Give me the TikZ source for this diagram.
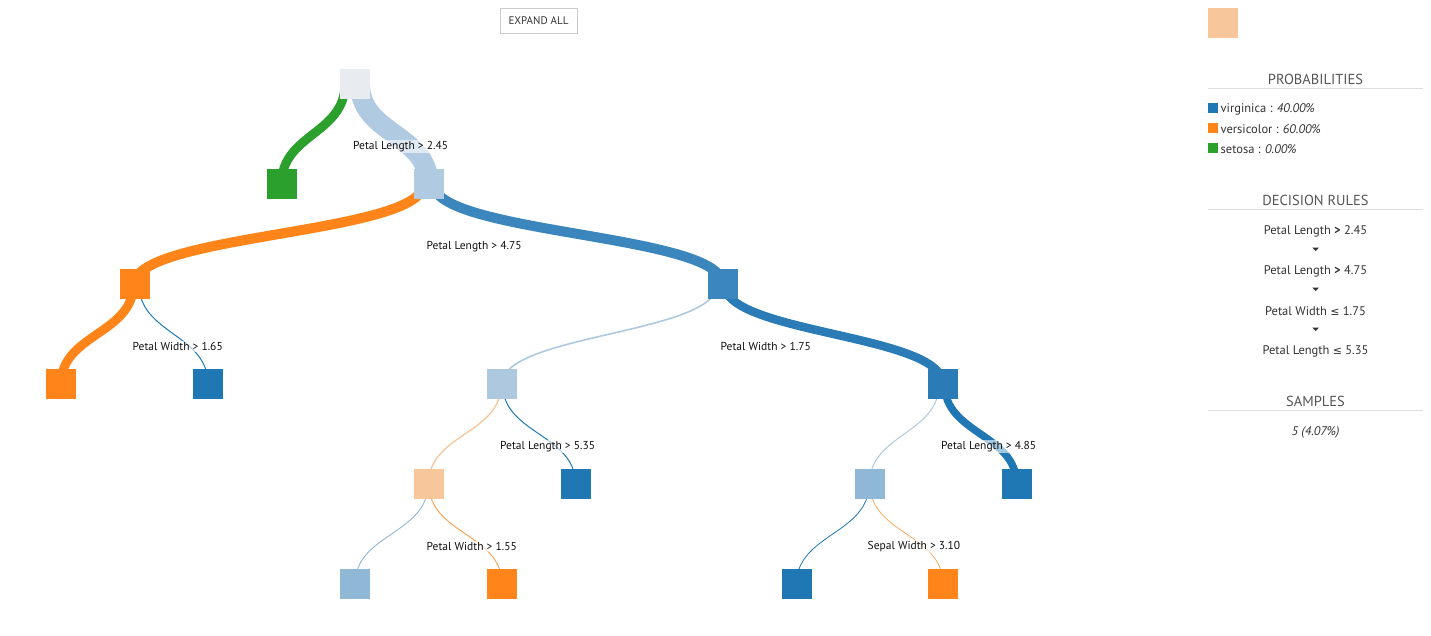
\documentclass[tikz,border=0pt]{standalone}
\usepackage{fontspec}
\setmainfont{PT Sans}
\newfontfamily\symf{DejaVu Sans}
\usetikzlibrary{backgrounds}
\definecolor{cRoot}{HTML}{E8ECF0}
\definecolor{cLone}{HTML}{B0CAE1}
\definecolor{cOr}{HTML}{FF851A}
\definecolor{cGr}{HTML}{2CA02C}
\definecolor{cBtwo}{HTML}{3A86BD}
\definecolor{cBthree}{HTML}{2A7BB6}
\definecolor{cBl}{HTML}{1F77B4}
\definecolor{cLthree}{HTML}{AEC8DF}
\definecolor{cPe}{HTML}{F7C69B}
\definecolor{cLfour}{HTML}{8FB7D6}
\definecolor{cTx}{HTML}{111111}
\definecolor{cBody}{HTML}{333333}
\definecolor{cHd}{HTML}{555555}
\definecolor{cRule}{HTML}{DDDDDD}
\definecolor{cBtn}{HTML}{CCCCCC}
\newcommand{\myle}{{\symf\fontsize{11}{12}\selectfont ≤}}
\begin{document}
\begin{tikzpicture}[x=1pt,y=-1pt,
  sq/.style={minimum size=30pt,inner sep=0pt,outer sep=0pt,fill=#1},
  lnk/.style={draw=#1,line cap=butt},
  lbl/.style={anchor=west,font=\fontsize{11.5}{13}\selectfont,text=cTx,fill=white,fill opacity=0.6,text opacity=1,inner sep=1pt},
  hd/.style={font=\fontsize{14.5}{16}\selectfont,text=cHd,inner sep=0pt},
  body/.style={font=\fontsize{12.5}{14}\selectfont,text=cBody,inner sep=0pt},
  key/.style={minimum size=10pt,inner sep=0pt,outer sep=0pt,fill=#1},
  tri/.style={fill=cBody}]
\useasboundingbox (0,0) rectangle (1431,635);

% button
\node[draw=cBtn,minimum width=77pt,minimum height=25pt,inner sep=0pt,font=\fontsize{11}{12}\selectfont,text=cBody] (btn) at (538.5,20.5) {EXPAND ALL};

% tree nodes
\node[sq=cRoot] (n0) at (355,84) {};
\node[sq=cGr] (n1) at (281.5,184) {};
\node[sq=cLone] (n2) at (428.5,184) {};
\node[sq=cOr] (n3) at (134.5,284) {};
\node[sq=cBtwo] (n4) at (722.5,284) {};
\node[sq=cOr] (n5) at (61,384) {};
\node[sq=cBl] (n6) at (208,384) {};
\node[sq=cLthree] (n7) at (502,384) {};
\node[sq=cBthree] (n8) at (943,384) {};
\node[sq=cPe] (n9) at (428.5,484) {};
\node[sq=cBl] (n10) at (575.5,484) {};
\node[sq=cLfour] (n11) at (869.5,484) {};
\node[sq=cBl] (n12) at (1016.5,484) {};
\node[sq=cLfour] (n13) at (355,584) {};
\node[sq=cOr] (n14) at (502,584) {};
\node[sq=cBl] (n15) at (796.5,584) {};
\node[sq=cOr] (n16) at (943,584) {};

% links
\begin{scope}[on background layer]
\draw[lnk=cGr,line width=9pt] ([xshift=-10pt]n0.center) .. controls +(0,50) and +(0,-50) .. (n1.center);
\draw[lnk=cLone,line width=20pt] ([xshift=5pt]n0.center) .. controls +(0,50) and +(0,-50) .. (n2.center);
\draw[lnk=cOr,line width=10pt] ([xshift=-5pt]n2.center) .. controls +(0,50) and +(0,-50) .. (n3.center);
\draw[lnk=cBtwo,line width=10pt] ([xshift=5pt]n2.center) .. controls +(0,50) and +(0,-50) .. (n4.center);
\draw[lnk=cOr,line width=9pt] ([xshift=-1pt]n3.center) .. controls +(0,50) and +(0,-50) .. (n5.center);
\draw[lnk=cBl,line width=1pt] ([xshift=4.5pt]n3.center) .. controls +(0,50) and +(0,-50) .. (n6.center);
\draw[lnk=cLthree,line width=1.6pt] ([xshift=-5pt]n4.center) .. controls +(0,50) and +(0,-50) .. (n7.center);
\draw[lnk=cBthree,line width=8.5pt] ([xshift=1.5pt]n4.center) .. controls +(0,50) and +(0,-50) .. (n8.center);
\draw[lnk=cPe,line width=1.3pt] ([xshift=-0.6pt]n7.center) .. controls +(0,50) and +(0,-50) .. (n9.center);
\draw[lnk=cBl,line width=1pt] ([xshift=0.6pt]n7.center) .. controls +(0,50) and +(0,-50) .. (n10.center);
\draw[lnk=cLthree,line width=1pt] ([xshift=-4pt]n8.center) .. controls +(0,50) and +(0,-50) .. (n11.center);
\draw[lnk=cBl,line width=7.5pt] ([xshift=1.5pt]n8.center) .. controls +(0,50) and +(0,-50) .. (n12.center);
\draw[lnk=cLfour,line width=0.9pt] ([xshift=-0.5pt]n9.center) .. controls +(0,50) and +(0,-50) .. (n13.center);
\draw[lnk=cOr!80!white,line width=0.9pt] ([xshift=0.5pt]n9.center) .. controls +(0,50) and +(0,-50) .. (n14.center);
\draw[lnk=cBl,line width=0.8pt] ([xshift=-0.5pt]n11.center) .. controls +(0,50) and +(0,-50) .. (n15.center);
\draw[lnk=cOr!70!white,line width=0.8pt] ([xshift=0.5pt]n11.center) .. controls +(0,50) and +(0,-50) .. (n16.center);
\end{scope}

% split labels
\node[lbl] (t0) at (352,146.5) {Petal Length > 2.45};
\node[lbl] (t2) at (425.5,246.5) {Petal Length > 4.75};
\node[lbl] (t3) at (131.5,346.5) {Petal Width > 1.65};
\node[lbl] (t4) at (719.5,346.5) {Petal Width > 1.75};
\node[lbl] (t7) at (499,446.5) {Petal Length > 5.35};
\node[lbl] (t8) at (940,446.5) {Petal Length > 4.85};
\node[lbl] (t9) at (425.5,546.5) {Petal Width > 1.55};
\node[lbl] (t11) at (866.5,546.5) {Sepal Width > 3.10};

% side panel
\node[sq=cPe] (sel) at (1223,23) {};
\node[hd] (hprob) at (1315.5,79) {PROBABILITIES};
\draw[cRule] (1208,88.5) -- (1423,88.5);
\node[key=cBl] (k1) at (1213,108) {};
\node[key=cOr] (k2) at (1213,128) {};
\node[key=cGr] (k3) at (1213,148) {};
\node[body,anchor=west] (v1) at (1220.5,109.5) {virginica : \textit{40.00\%}};
\node[body,anchor=west] (v2) at (1220.5,129.5) {versicolor : \textit{60.00\%}};
\node[body,anchor=west] (v3) at (1220.5,149.5) {setosa : \textit{0.00\%}};

\node[hd] (hrules) at (1315.5,200) {DECISION RULES};
\draw[cRule] (1208,209.5) -- (1423,209.5);
\node[body] (r1) at (1315.5,231.5) {Petal Length \textbf{>} 2.45};
\node[body] (r2) at (1315.5,271.5) {Petal Length \textbf{>} 4.75};
\node[body] (r3) at (1315.5,311.5) {Petal Width \myle\ 1.75};
\node[body] (r4) at (1315.5,351.5) {Petal Length \myle\ 5.35};
\fill[tri] (1312,247.5) -- (1319,247.5) -- (1315.5,251) -- cycle;
\fill[tri] (1312,287.5) -- (1319,287.5) -- (1315.5,291) -- cycle;
\fill[tri] (1312,327.5) -- (1319,327.5) -- (1315.5,331) -- cycle;

\node[hd] (hsamp) at (1315.5,401) {SAMPLES};
\draw[cRule] (1208,410.5) -- (1423,410.5);
\node[body] (samp) at (1315.5,432.5) {\textit{5 (4.07\%)}};
\end{tikzpicture}
\end{document}
